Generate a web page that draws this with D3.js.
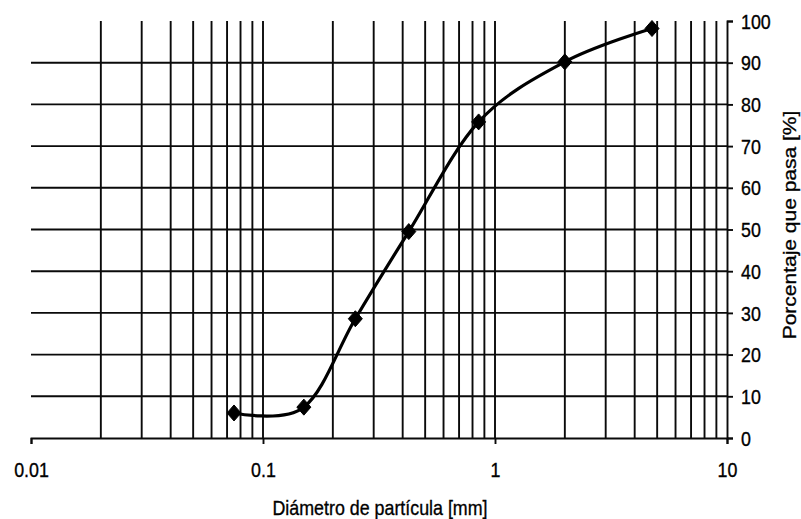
<!DOCTYPE html>
<html>
<head>
<meta charset="utf-8">
<script src="https://cdn.jsdelivr.net/npm/d3@7"></script>
<style>
  html, body { margin: 0; padding: 0; background: #fff; }
  svg { display: block; }
  text { font-family: "Liberation Sans", Arial, sans-serif; fill: #000; stroke: #000; stroke-width: 0.35px; }
</style>
</head>
<body>
<div id="chart"></div>
<script>
// sieve analysis: particle diameter [mm] vs percent passing
const diameters = [0.075, 0.15, 0.25, 0.425, 0.85, 2, 4.75];
const passing = [6, 7.4, 28.6, 49.5, 75.8, 90.2, 98.2];
const xTickValues = [0.01, 0.1, 1, 10];
const xTickLabels = ["0.01", "0.1", "1", "10"];
const yTickValues = [0, 10, 20, 30, 40, 50, 60, 70, 80, 90, 100];
const yGridValues = [10, 20, 30, 40, 50, 60, 70, 80, 90];

const width = 801;
const height = 519;
const plotLeft = 31, plotRight = 727, plotTop = 21, plotBottom = 438;
const squeeze = 0.85;   // text in the picture is horizontally condensed
const ink = "#0a0a0a";
const lineW = 1.9;

const x = d3.scaleLog().domain([0.01, 10]).range([plotLeft, plotRight]);
const y = d3.scaleLinear().domain([0, 100]).range([plotBottom, plotTop]);

const svg = d3.select("#chart")
  .append("svg")
  .attr("width", width)
  .attr("height", height)
  .attr("viewBox", [0, 0, width, height]);

svg.append("rect")
  .attr("width", width)
  .attr("height", height)
  .attr("fill", "#fff");

// --- grid ---
const grid = svg.append("g")
  .attr("stroke", ink)
  .attr("stroke-width", lineW);

grid.selectAll("line.v")
  .data(x.ticks().filter(d => d > 0.01 && d < 10))
  .join("line")
  .attr("class", "v")
  .attr("x1", d => x(d))
  .attr("x2", d => x(d))
  .attr("y1", y(100))
  .attr("y2", y(0));

grid.selectAll("line.h")
  .data(yGridValues)
  .join("line")
  .attr("class", "h")
  .attr("x1", x(0.01))
  .attr("x2", x(10))
  .attr("y1", d => y(d))
  .attr("y2", d => y(d));

// --- axes ---
const xAxis = svg.append("g")
  .attr("transform", `translate(0,${plotBottom})`)
  .call(d3.axisBottom(x)
    .tickValues(xTickValues)
    .tickFormat((d, i) => xTickLabels[i])
    .tickSize(6)
    .tickPadding(18));

const yAxis = svg.append("g")
  .attr("transform", `translate(${plotRight},0)`)
  .call(d3.axisRight(y)
    .tickValues(yTickValues)
    .tickSize(6));

[xAxis, yAxis].forEach(g => {
  g.select(".domain").attr("stroke", ink).attr("stroke-width", lineW);
  g.selectAll(".tick line").attr("stroke", ink).attr("stroke-width", lineW);
  g.selectAll(".tick text")
    .attr("fill", "#000")
    .attr("font-size", 21)
    .attr("font-family", "Liberation Sans, Arial, sans-serif");
});

xAxis.selectAll(".tick text")
  .attr("transform", `scale(${squeeze},1)`);

yAxis.selectAll(".tick text")
  .attr("x", 14 / squeeze)
  .attr("dy", "0.34em")
  .attr("transform", `scale(${squeeze},1)`);

// --- axis titles ---
svg.append("text")
  .attr("text-anchor", "middle")
  .attr("font-size", 21)
  .attr("transform", `translate(380,515) scale(${squeeze},1)`)
  .text("Diámetro de partícula [mm]");

svg.append("text")
  .attr("text-anchor", "middle")
  .attr("font-size", 21)
  .attr("transform", `translate(796,225) scale(${squeeze},1) rotate(-90)`)
  .text("Porcentaje que pasa [%]");

// --- curve ---
const points = diameters.map((d, i) => [d, passing[i]]);

const line = d3.line()
  .x(d => x(d[0]))
  .y(d => y(d[1]))
  .curve(d3.curveCardinal.tension(0));

svg.append("path")
  .datum(points)
  .attr("fill", "none")
  .attr("stroke", "#000")
  .attr("stroke-width", 3.2)
  .attr("d", line);

const diamond = {
  draw(context) {
    context.moveTo(0, -8);
    context.lineTo(7, 0);
    context.lineTo(0, 8);
    context.lineTo(-7, 0);
    context.closePath();
  }
};

svg.selectAll("path.marker")
  .data(points)
  .join("path")
  .attr("class", "marker")
  .attr("transform", d => `translate(${x(d[0])},${y(d[1])})`)
  .attr("fill", "#000")
  .attr("stroke", "#000")
  .attr("stroke-width", 1)
  .attr("stroke-linejoin", "round")
  .attr("d", d3.symbol(diamond));
</script>
</body>
</html>
